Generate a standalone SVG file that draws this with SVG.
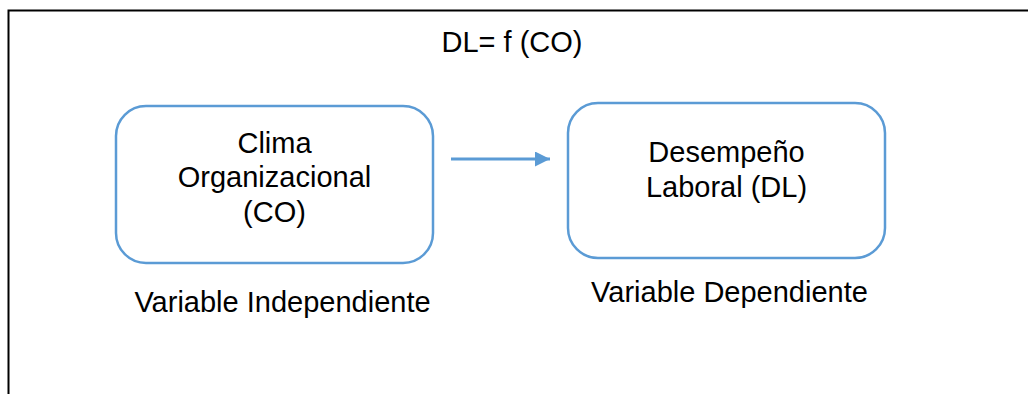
<svg xmlns="http://www.w3.org/2000/svg" width="1028" height="394" viewBox="0 0 1028 394">
<style>
.t{font-family:"Liberation Sans",Arial,sans-serif;font-size:29px;fill:#000;text-anchor:middle}
.box{fill:#fff;stroke:#5B9BD5;stroke-width:2.5}
</style>
<defs>
<marker id="ah" markerWidth="5" markerHeight="5" refX="5" refY="2.5" orient="auto" markerUnits="strokeWidth">
<path d="M0,0 L5,2.5 L0,5 Z" fill="#5B9BD5"/>
</marker>
</defs>
<rect width="1028" height="394" fill="#fff"/>
<path d="M8.5,394 V10.5 H1028" fill="none" stroke="#000" stroke-width="2"/>
<text class="t" x="512" y="52">DL= f (CO)</text>
<g id="co">
<rect class="box" x="116" y="106" width="317" height="157" rx="30"/>
<text class="t" x="274.5" y="153">Clima</text>
<text class="t" x="274.5" y="187">Organizacional</text>
<text class="t" x="274.5" y="222">(CO)</text>
</g>
<g id="dl">
<rect class="box" x="568" y="103" width="317" height="155" rx="30"/>
<text class="t" x="726.5" y="162">Desempeño</text>
<text class="t" x="726.5" y="197">Laboral (DL)</text>
</g>
<g id="lbl-vi"><text class="t" x="282.5" y="312">Variable Independiente</text></g>
<g id="lbl-vd"><text class="t" x="729.5" y="302">Variable Dependiente</text></g>
<g id="connectors">
<line x1="451" y1="159" x2="550" y2="159" stroke="#5B9BD5" stroke-width="3" marker-end="url(#ah)"/>
</g>
</svg>
